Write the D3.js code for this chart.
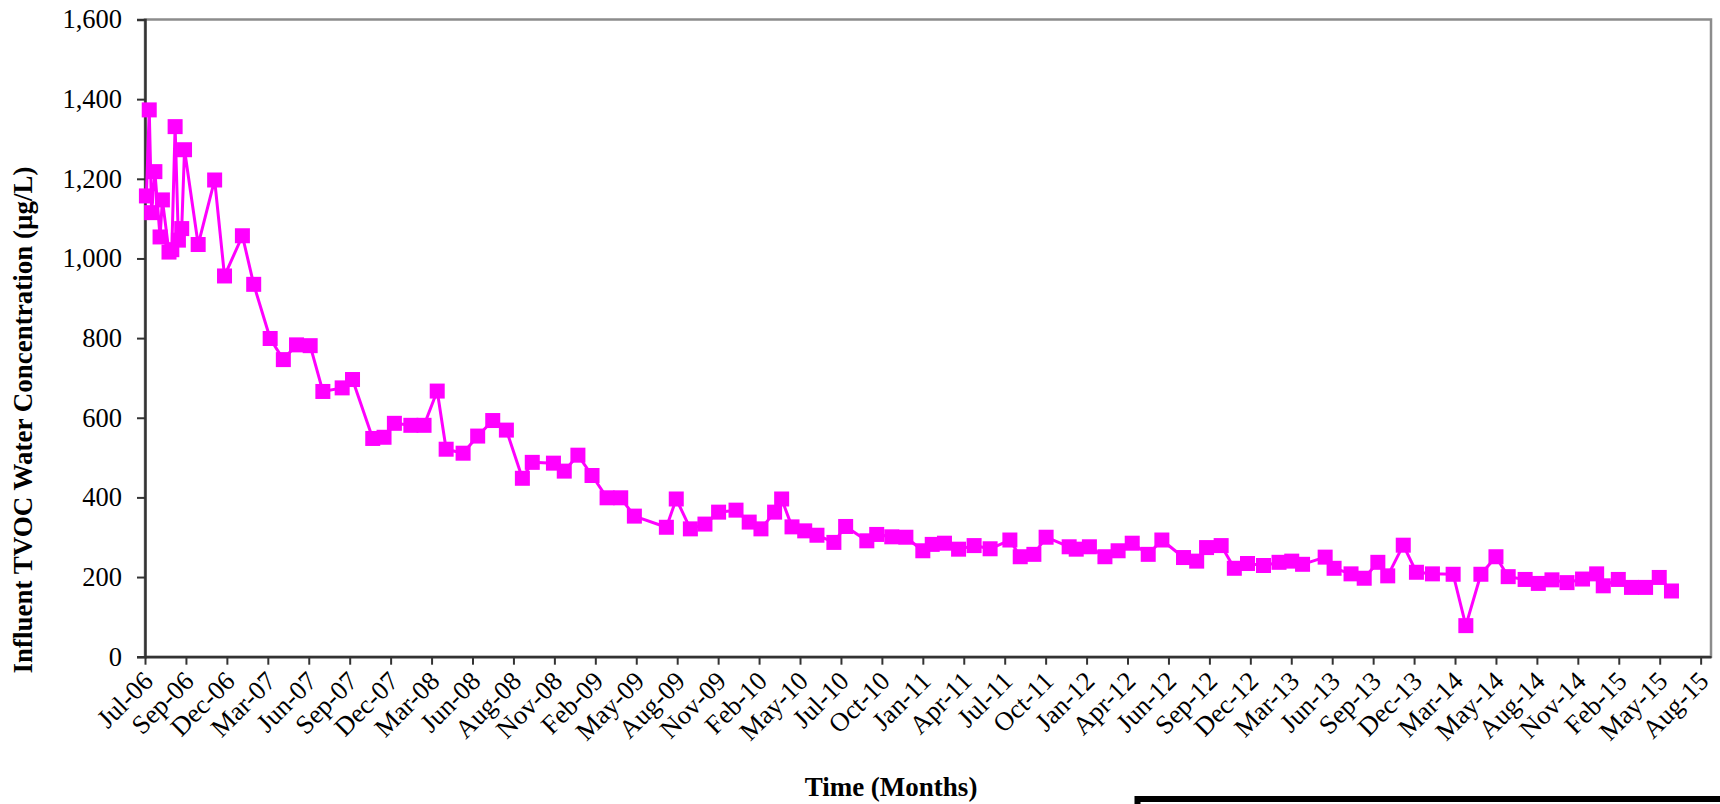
<!DOCTYPE html>
<html><head><meta charset="utf-8">
<script src="https://cdn.jsdelivr.net/npm/d3@7"></script>
<style>
body{margin:0;background:#fff}
svg{display:block}
text{font-family:"Liberation Serif","Times New Roman",serif;fill:#000}
</style>
</head><body>
<svg id="chart" width="1720" height="804"></svg>
<script>
// Category tick labels (one every 87 days starting at the axis origin)
const xTickLabels = ["Jul-06","Sep-06","Dec-06","Mar-07","Jun-07","Sep-07","Dec-07","Mar-08","Jun-08","Aug-08","Nov-08","Feb-09","May-09","Aug-09","Nov-09","Feb-10","May-10","Jul-10","Oct-10","Jan-11","Apr-11","Jul-11","Oct-11","Jan-12","Apr-12","Jun-12","Sep-12","Dec-12","Mar-13","Jun-13","Sep-13","Dec-13","Mar-14","May-14","Aug-14","Nov-14","Feb-15","May-15","Aug-15"];
const tickStepDays = 87;
const axisEndDay = 3328;
const yTicks = [0,200,400,600,800,1000,1200,1400,1600];

// Sample day (days since the axis origin, mid-July 2006)
const sampleDay = [3,9,14,21,32,37,51,57,64,71,78,84,113,148,169,207,231,266,294,322,351,378,419,441,484,508,530,565,593,621,640,676,707,739,768,802,823,868,891,920,950,982,1011,1040,1108,1129,1159,1190,1219,1256,1284,1309,1338,1353,1375,1402,1428,1464,1489,1534,1555,1587,1617,1653,1673,1699,1729,1762,1796,1838,1860,1889,1915,1964,1979,2007,2040,2068,2098,2132,2161,2207,2235,2256,2287,2315,2343,2377,2410,2437,2460,2508,2527,2563,2591,2620,2641,2674,2702,2736,2780,2807,2839,2871,2897,2933,2961,2990,3022,3055,3085,3099,3131,3159,3189,3218,3244];
// Influent TVOC water concentration (ug/L)
const tvoc = [1157,1373,1115,1218,1054,1147,1016,1022,1331,1046,1075,1273,1035,1197,956,1057,935,799,746,783,781,666,675,696,548,551,586,581,581,667,521,511,554,593,569,448,488,486,466,506,455,399,399,353,325,396,321,333,363,368,338,321,363,396,326,316,305,287,327,291,307,301,300,266,282,285,270,279,271,293,251,257,300,276,270,276,251,266,285,257,293,249,240,274,279,222,234,229,237,240,232,250,222,208,197,237,203,280,212,208,207,78,207,251,201,194,184,193,186,195,208,178,194,174,174,199,165];

const data = sampleDay.map((d,i)=>({day:d, v:tvoc[i]}));

const svg = d3.select("#chart");
const L = 145, T = 19.5, R = 1711, B = 656.7;

const x = d3.scaleLinear().domain([0, axisEndDay]).range([L, R]);
const y = d3.scaleLinear().domain([0, 1600]).range([B, T]);

svg.append("rect").attr("width",1720).attr("height",804).attr("fill","#fff");

// plot frame (grey)
svg.append("rect").attr("x",L).attr("y",T).attr("width",R-L).attr("height",B-T)
  .attr("fill","none").attr("stroke","#8c8c8c").attr("stroke-width",2.5);

// Y axis
const gy = svg.append("g").attr("transform",`translate(${L},0)`)
  .call(d3.axisLeft(y).tickValues(yTicks).tickFormat(d3.format(",")).tickSize(8).tickPadding(15));
gy.select(".domain").attr("stroke","#333").attr("stroke-width",2.5);
gy.selectAll(".tick line").attr("stroke","#333").attr("stroke-width",2);
gy.selectAll(".tick text").attr("font-size",26.5).attr("font-family","Liberation Serif, serif");

// X axis
const xTicks = d3.range(xTickLabels.length).map(i=>i*tickStepDays);
const gx = svg.append("g").attr("transform",`translate(0,${B})`)
  .call(d3.axisBottom(x).tickValues(xTicks).tickFormat((d,i)=>xTickLabels[i]).tickSize(8).tickSizeOuter(0));
gx.select(".domain").attr("stroke","#333").attr("stroke-width",2.5);
gx.selectAll(".tick line").attr("stroke","#333").attr("stroke-width",2);
gx.selectAll(".tick text").attr("font-size",26.5).attr("font-family","Liberation Serif, serif")
  .attr("text-anchor","end").attr("x",0).attr("y",0).attr("dy",0).attr("dx",0)
  .attr("transform","translate(9,26) rotate(-45)");

// series line
svg.append("path").datum(data)
  .attr("fill","none").attr("stroke","#ff00ff").attr("stroke-width",3).attr("stroke-linejoin","round")
  .attr("d", d3.line().x(d=>x(d.day)).y(d=>y(d.v)));

// markers
const ms = 15;
svg.append("g").selectAll("rect").data(data).join("rect")
  .attr("x",d=>x(d.day)-ms/2).attr("y",d=>y(d.v)-ms/2)
  .attr("width",ms).attr("height",ms).attr("fill","#ff00ff");

// axis titles
svg.append("text").attr("transform","translate(32,420) rotate(-90)")
  .attr("text-anchor","middle").attr("font-size",27).attr("font-weight","bold")
  .text("Influent TVOC Water Concentration (µg/L)");
svg.append("text").attr("x",891).attr("y",796)
  .attr("text-anchor","middle").attr("font-size",27).attr("font-weight","bold")
  .text("Time (Months)");

// partial box at bottom right
svg.append("rect").attr("x",1137.5).attr("y",799).attr("width",620).attr("height",40)
  .attr("fill","none").attr("stroke","#000").attr("stroke-width",6);
</script>
</body></html>
